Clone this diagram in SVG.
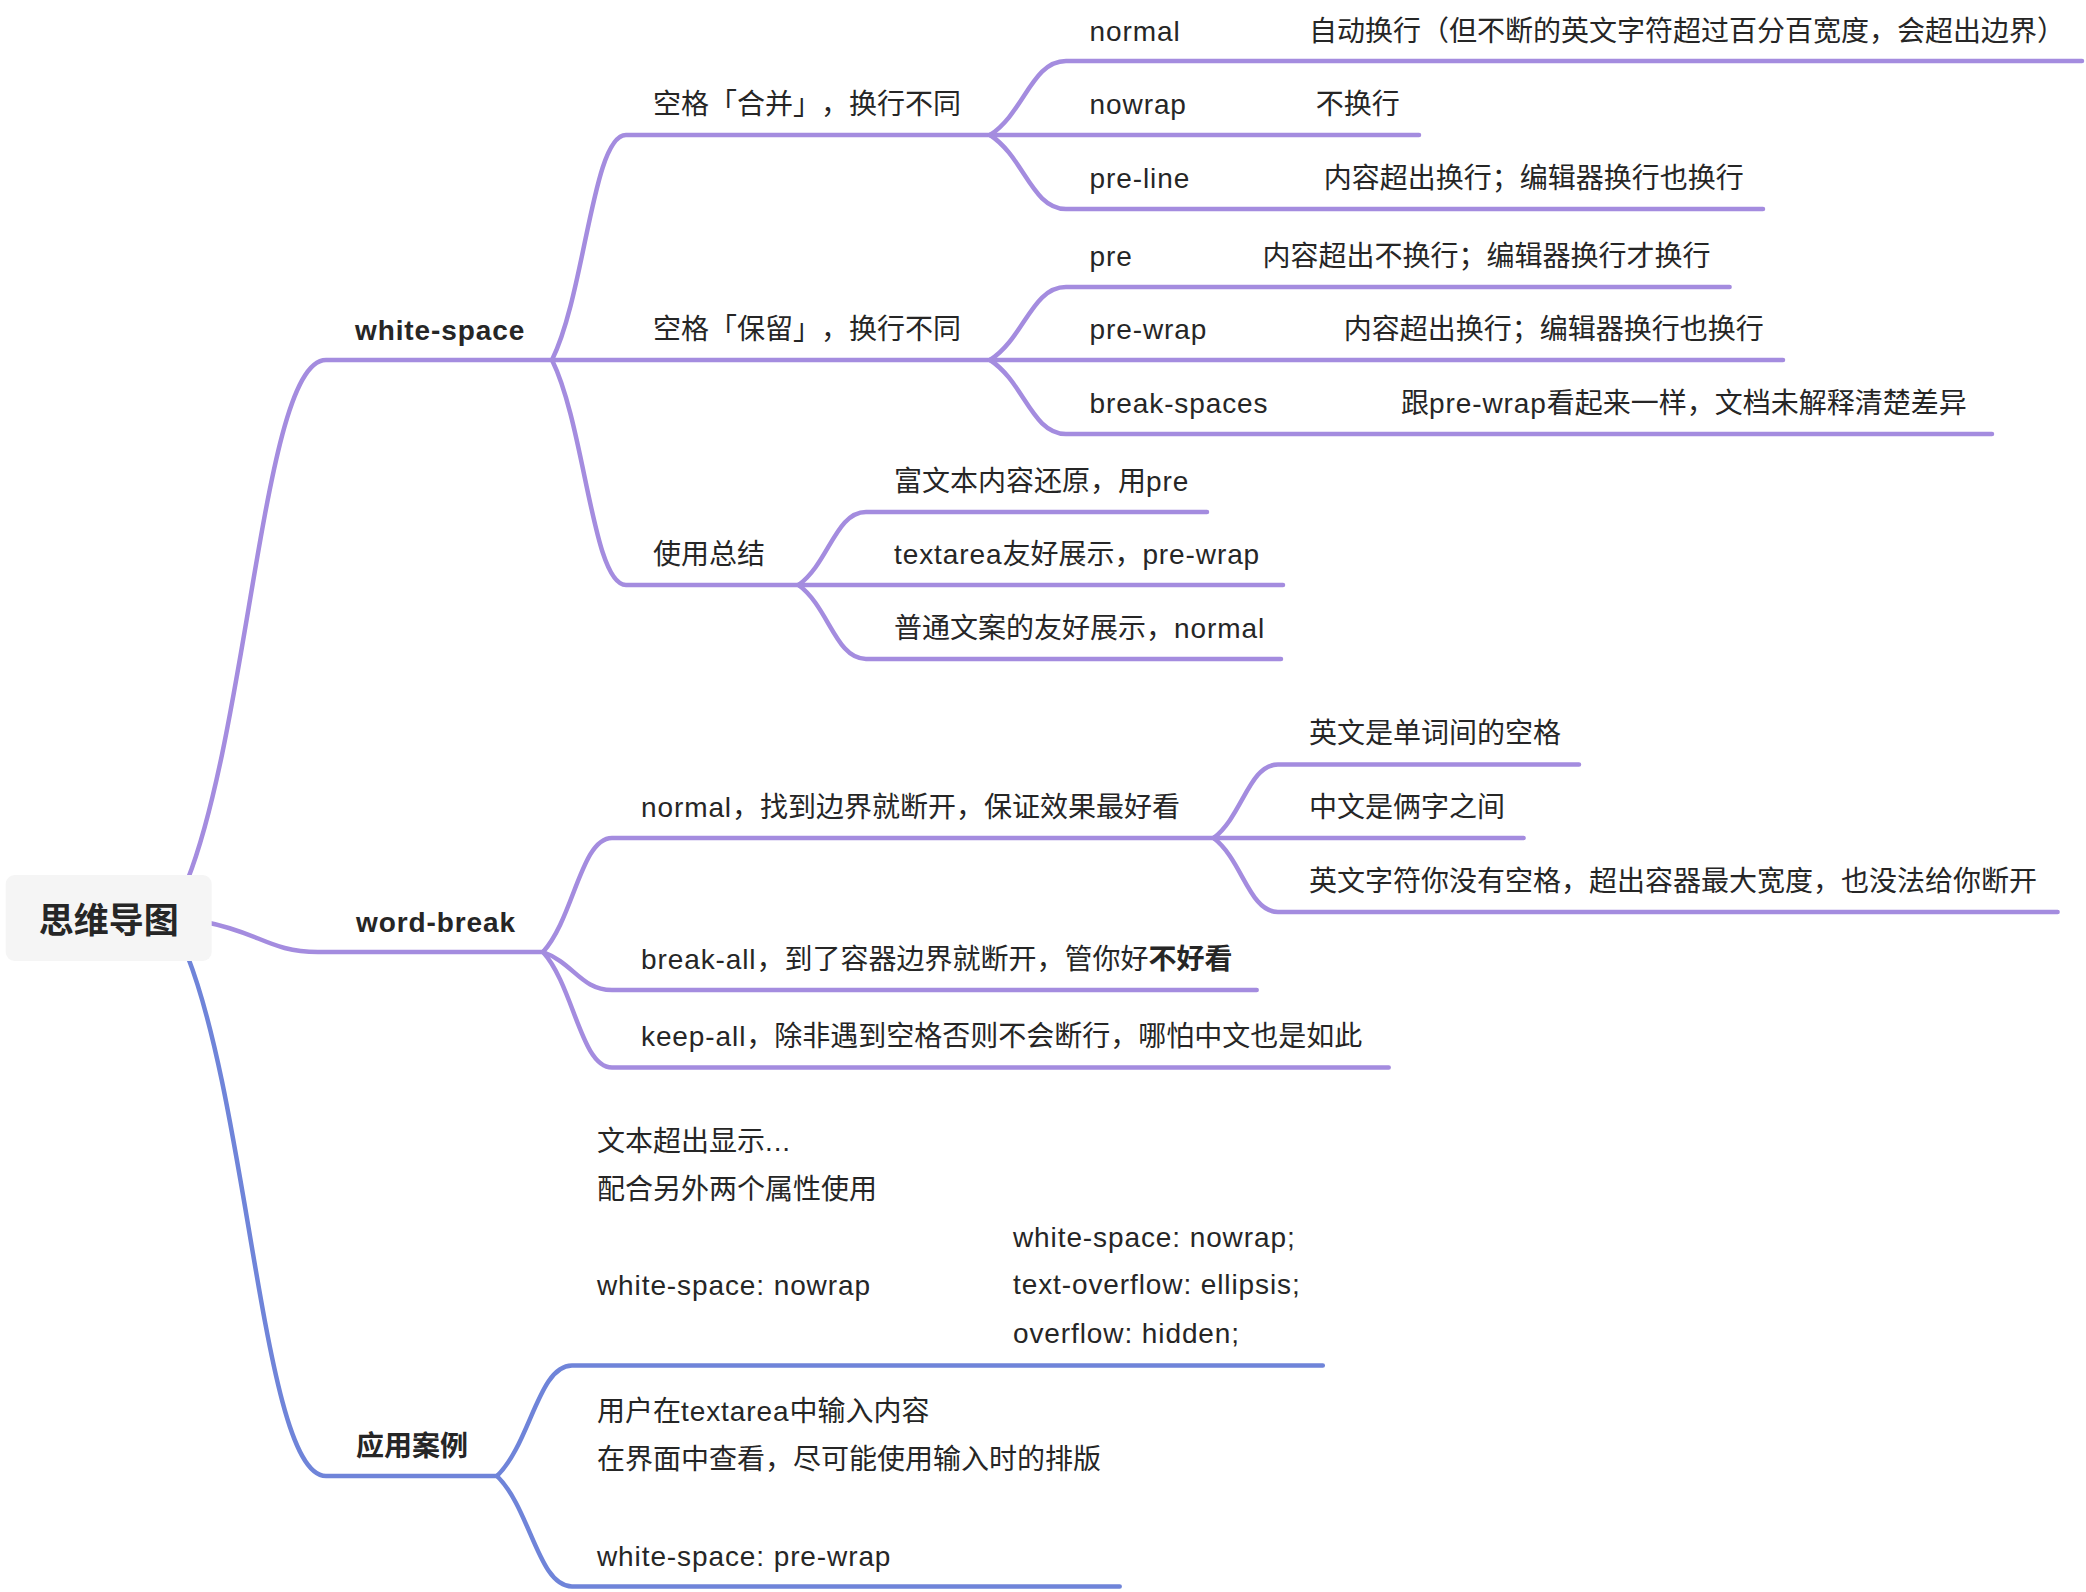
<svg xmlns="http://www.w3.org/2000/svg" width="2086" height="1592" viewBox="0 0 2086 1592">
<style>
  .bg { fill: #ffffff; }
  .lk { fill: none; stroke-width: 4.5; stroke-linecap: round; stroke-linejoin: round; }
  .p { stroke: #a48cdf; }
  .b { stroke: #6f84d9; }
  text { font-family: "Liberation Sans", "Noto Sans CJK SC", sans-serif; font-size: 28px; fill: #262626; text-spacing-trim: space-all; }
  .l1 { font-weight: 600; }
  .root { font-size: 35px; font-weight: 700; text-anchor: middle; }
  .bold { font-weight: 700; }
  .en { letter-spacing: 0.9px; }
</style>
<rect class="bg" x="0" y="0" width="2086" height="1592"/>

<g id="connectors">
  <path class="lk p" d="M187.5,880 C249.8,720.5 263.7,360 326,360 L552,360"/>
  <path class="lk p" d="M205,922 C259.5,932.4 270.1,952 318,952 L543,952"/>
  <path class="lk b" d="M187.5,956 C249.8,1115.5 263.7,1476 326,1476 L497,1476"/>
  <path class="lk p" d="M552,360 C585.3,292.5 592.7,135 626,135 L990,135"/>
  <path class="lk p" d="M552,360 L990,360"/>
  <path class="lk p" d="M552,360 C585.3,427.5 592.7,585 626,585 L798.5,585"/>
  <path class="lk p" d="M990,135 C1024.2,112.8 1031.8,61 1066,61 L2082,61"/>
  <path class="lk p" d="M990,135 L1419,135"/>
  <path class="lk p" d="M990,135 C1024.2,157.2 1031.8,209 1066,209 L1763,209"/>
  <path class="lk p" d="M990,360 C1024.2,338.1 1031.8,287 1066,287 L1729.6,287"/>
  <path class="lk p" d="M990,360 L1783,360"/>
  <path class="lk p" d="M990,360 C1024.2,382.2 1031.8,434 1066,434 L1992,434"/>
  <path class="lk p" d="M798.5,585 C828.9,563.1 835.6,512 866,512 L1207,512"/>
  <path class="lk p" d="M798.5,585 L1283,585"/>
  <path class="lk p" d="M798.5,585 C828.9,607.2 835.6,659 866,659 L1281,659"/>
  <path class="lk p" d="M543,952 C574,917.8 581,838 612,838 L1213.6,838"/>
  <path class="lk p" d="M543,952 C574,963.4 581,990 612,990 L1256.7,990"/>
  <path class="lk p" d="M543,952 C574,986.7 581,1067.5 612,1067.5 L1388.7,1067.5"/>
  <path class="lk p" d="M1213.6,838 C1242.6,816 1249,764.5 1278,764.5 L1579,764.5"/>
  <path class="lk p" d="M1213.6,838 L1523.6,838"/>
  <path class="lk p" d="M1213.6,838 C1242.6,860.2 1249,912 1278,912 L2057.6,912"/>
  <path class="lk b" d="M497,1476 C530.8,1442.9 538.3,1365.5 572,1365.5 L1322.8,1365.5"/>
  <path class="lk b" d="M497,1476 C530.8,1509.2 538.3,1586.5 572,1586.5 L1119.7,1586.5"/>
</g>

<g id="root">
  <rect x="5.7" y="875" width="206" height="86" rx="9" ry="9" fill="#f5f5f5"/>
  <text class="root" x="108.7" y="933">思维导图</text>
</g>

<g id="white-space">
  <text class="l1 en" x="355" y="340">white-space</text>
</g>
<g id="ws-merge">
  <text x="653" y="114">空格「合并」，换行不同</text>
</g>
<g id="ws-keep">
  <text x="653" y="339">空格「保留」，换行不同</text>
</g>
<g id="ws-summary">
  <text x="653" y="564">使用总结</text>
</g>
<g id="ws-normal">
  <text y="41"><tspan class="en" x="1089.6">normal</tspan><tspan x="1309">自动换行（但不断的英文字符超过百分百宽度，会超出边界）</tspan></text>
</g>
<g id="ws-nowrap">
  <text y="114"><tspan class="en" x="1089.6">nowrap</tspan><tspan x="1315.8">不换行</tspan></text>
</g>
<g id="ws-pre-line">
  <text y="188"><tspan class="en" x="1089.6">pre-line</tspan><tspan x="1323.8">内容超出换行；编辑器换行也换行</tspan></text>
</g>
<g id="ws-pre">
  <text y="266"><tspan class="en" x="1089.6">pre</tspan><tspan x="1262.6">内容超出不换行；编辑器换行才换行</tspan></text>
</g>
<g id="ws-pre-wrap">
  <text y="339"><tspan class="en" x="1089.6">pre-wrap</tspan><tspan x="1343.7">内容超出换行；编辑器换行也换行</tspan></text>
</g>
<g id="ws-break-spaces">
  <text y="413"><tspan class="en" x="1089.6">break-spaces</tspan><tspan x="1401">跟<tspan class="en">pre-wrap</tspan>看起来一样，文档未解释清楚差异</tspan></text>
</g>
<g id="sum-rich">
  <text x="894" y="491">富文本内容还原，用<tspan class="en">pre</tspan></text>
</g>
<g id="sum-textarea">
  <text x="894" y="564"><tspan class="en">textarea</tspan>友好展示，<tspan class="en">pre-wrap</tspan></text>
</g>
<g id="sum-normal">
  <text x="894" y="638">普通文案的友好展示，<tspan class="en">normal</tspan></text>
</g>

<g id="word-break">
  <text class="l1 en" x="356" y="932">word-break</text>
</g>
<g id="wb-normal">
  <text x="641" y="817"><tspan class="en">normal</tspan>，找到边界就断开，保证效果最好看</text>
</g>
<g id="wb-break-all">
  <text x="641" y="969"><tspan class="en">break-all</tspan>，到了容器边界就断开，管你好<tspan class="bold">不好看</tspan></text>
</g>
<g id="wb-keep-all">
  <text x="641" y="1046"><tspan class="en">keep-all</tspan>，除非遇到空格否则不会断行，哪怕中文也是如此</text>
</g>
<g id="wb-en">
  <text x="1309" y="743">英文是单词间的空格</text>
</g>
<g id="wb-zh">
  <text x="1309" y="817">中文是俩字之间</text>
</g>
<g id="wb-nospace">
  <text x="1309" y="891">英文字符你没有空格，超出容器最大宽度，也没法给你断开</text>
</g>

<g id="cases">
  <text class="l1" x="356" y="1456">应用案例</text>
</g>
<g id="case-ellipsis">
  <text x="597" y="1151">文本超出显示<tspan class="en">...</tspan></text>
  <text x="597" y="1199">配合另外两个属性使用</text>
  <text class="en" x="597" y="1295">white-space: nowrap</text>
  <text class="en" x="1013" y="1247">white-space: nowrap;</text>
  <text class="en" x="1013" y="1294">text-overflow: ellipsis;</text>
  <text class="en" x="1013" y="1343">overflow: hidden;</text>
</g>
<g id="case-prewrap">
  <text x="597" y="1421">用户在<tspan class="en">textarea</tspan>中输入内容</text>
  <text x="597" y="1469">在界面中查看，尽可能使用输入时的排版</text>
  <text class="en" x="597" y="1566">white-space: pre-wrap</text>
</g>
</svg>
